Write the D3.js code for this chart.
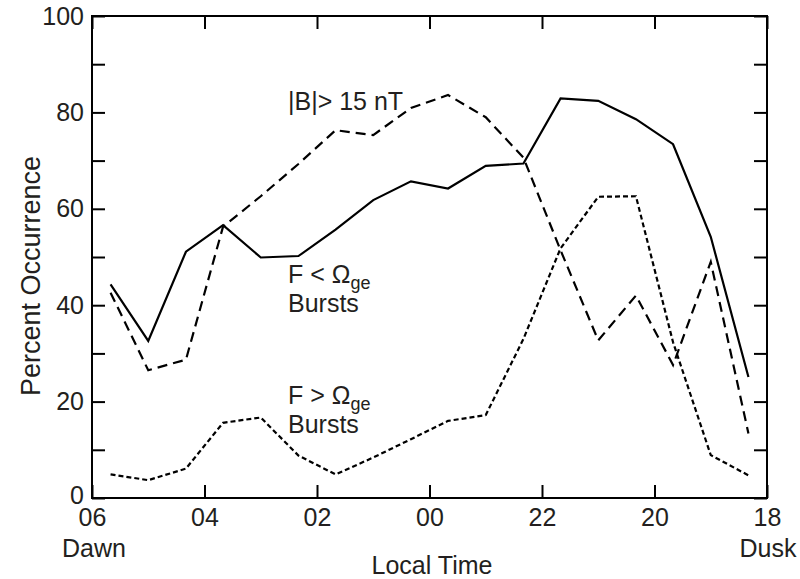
<!DOCTYPE html>
<html lang="en">
	<head>
		<meta charset="utf-8">
		<title>Percent Occurrence vs Local Time</title>
		<script type="text/javascript" src="https://cdn.jsdelivr.net/npm/d3@7"></script>
		<style type="text/css">
			body {
				margin: 0;
				background: white;
			}
			text {
				font-family: "Liberation Sans", Arial, Helvetica, sans-serif;
				font-size: 25px;
				fill: #231f20;
			}
		</style>
	</head>
	<body>
		<script type="text/javascript">

			// Local time of each 40 min bin, dawn (06) round through midnight to dusk (18)
			var localTime = [5.67, 5.0, 4.33, 3.67, 3.0, 2.33, 1.67, 1.0, 0.33,
							 23.67, 23.0, 22.33, 21.67, 21.0, 20.33, 19.67, 19.0, 18.33];

			// Solid line
			var burstsBelow = [44.3, 32.6, 51.1, 56.6, 49.9, 50.2, 55.7, 61.8, 65.7,
							   64.2, 68.9, 69.4, 82.9, 82.4, 78.6, 73.4, 54.2, 25.1];
			// Long dashes
			var fieldAbove = [42.6, 26.5, 28.7, 56.3, 62.6, 69.3, 76.3, 75.3, 80.9,
							  83.6, 79.0, 70.6, 51.4, 32.7, 42.0, 27.6, 49.0, 13.4];
			// Short dashes
			var burstsAbove = [4.9, 3.7, 6.1, 15.6, 16.7, 8.8, 4.9, 8.4, 12.2,
							   16.0, 17.2, 33.0, 51.8, 62.5, 62.6, 32.3, 8.9, 4.7];

			var xTickValues = [6, 4, 2, 0, 22, 20, 18];
			var xTickLabels = ["06", "04", "02", "00", "22", "20", "18"];
			var yTickValues = [0, 10, 20, 30, 40, 50, 60, 70, 80, 90, 100];

			// SVG size and plot frame
			var w = 800;
			var h = 579;
			var plotLeft = 92, plotTop = 16, plotRight = 767, plotBottom = 498;

			// hours elapsed going backwards from 06
			function since(t) {
				return (6 - t + 24) % 24;
			}

			var x = d3.scaleLinear().domain([0, 12]).range([plotLeft, plotRight]);
			var y = d3.scaleLinear().domain([0, 100]).range([plotBottom, plotTop]);

			var svg = d3.select("body")
						.append("svg")
						.attr("width", w)
						.attr("height", h);

			// axes: ticks point inward, labels on left and bottom only
			var xAxis = d3.axisBottom(x)
				.tickValues(xTickValues.map(since))
				.tickSizeInner(-13)
				.tickSizeOuter(0)
				.tickPadding(10)
				.tickFormat(function(d, i) { return xTickLabels[i]; });

			var yAxis = d3.axisLeft(y)
				.tickValues(yTickValues)
				.tickSizeInner(-13)
				.tickSizeOuter(0)
				.tickPadding(8)
				.tickFormat(function(d) { return d % 20 === 0 ? d : ""; });

			svg.append("g")
				.attr("transform", "translate(0," + plotBottom + ")")
				.call(xAxis);
			var gy = svg.append("g")
				.attr("transform", "translate(" + plotLeft + ",0)")
				.call(yAxis);
			svg.append("g")
				.attr("transform", "translate(0," + plotTop + ")")
				.call(d3.axisTop(x).tickValues(xTickValues.map(since))
					.tickSizeInner(-13).tickSizeOuter(0).tickFormat(""));
			svg.append("g")
				.attr("transform", "translate(" + plotRight + ",0)")
				.call(d3.axisRight(y).tickValues(yTickValues)
					.tickSizeInner(-13).tickSizeOuter(0).tickFormat(""));

			svg.selectAll(".domain").remove();
			svg.selectAll(".tick line")
				.attr("stroke", "#000")
				.attr("stroke-width", 2);
			svg.selectAll(".tick text")
				.attr("fill", "#231f20")
				.style("font-size", "25px")
				.style("font-family", "'Liberation Sans', Arial, sans-serif");
			// the "0" sits just above "06" in the corner
			gy.selectAll(".tick text")
				.filter(function(d) { return d === 0; })
				.attr("dy", "0.2em");

			svg.append("rect")
				.attr("x", plotLeft)
				.attr("y", plotTop)
				.attr("width", plotRight - plotLeft)
				.attr("height", plotBottom - plotTop)
				.attr("fill", "none")
				.attr("stroke", "#000")
				.attr("stroke-width", 2);

			// the three series
			var line = d3.line()
				.x(function(d) { return x(since(d[0])); })
				.y(function(d) { return y(d[1]); });

			var series = [
				{ values: burstsBelow, dash: null },
				{ values: fieldAbove, dash: "10,6" },
				{ values: burstsAbove, dash: "5,3" }
			];

			svg.selectAll("path.series")
				.data(series)
				.enter()
				.append("path")
				.attr("class", "series")
				.attr("d", function(s) { return line(d3.zip(localTime, s.values)); })
				.attr("fill", "none")
				.attr("stroke", "#000")
				.attr("stroke-width", 2.2)
				.attr("stroke-linejoin", "miter")
				.attr("stroke-dasharray", function(s) { return s.dash; });

			// annotations
			svg.append("text")
				.attr("x", 288)
				.attr("y", 110)
				.text("|B|> 15 nT");

			function omegaLabel(yBase, sign) {
				var t = svg.append("text").attr("x", 288).attr("y", yBase);
				t.append("tspan").text("F " + sign + " \u03A9");
				t.append("tspan").attr("dy", 6).style("font-size", "18px").text("ge");
				svg.append("text")
					.attr("x", 288)
					.attr("y", yBase + 29)
					.text("Bursts");
			}
			omegaLabel(283, "<");
			omegaLabel(404, ">");

			// axis titles
			svg.append("text")
				.attr("x", 432)
				.attr("y", 574)
				.attr("text-anchor", "middle")
				.text("Local Time");

			svg.append("text")
				.attr("x", 94)
				.attr("y", 557)
				.attr("text-anchor", "middle")
				.text("Dawn");

			svg.append("text")
				.attr("x", 768)
				.attr("y", 557)
				.attr("text-anchor", "middle")
				.text("Dusk");

			svg.append("text")
				.attr("transform", "translate(40," + 276 + ") rotate(-90)")
				.attr("text-anchor", "middle")
				.style("font-size", "27px")
				.text("Percent Occurrence");

		</script>
	</body>
</html>
